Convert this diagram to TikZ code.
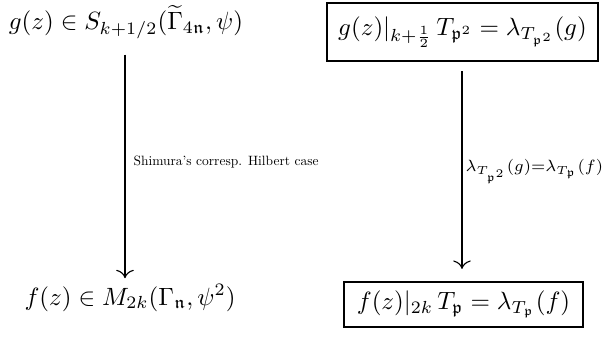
\documentclass[tikz,border=0pt]{standalone}
\usepackage{amsmath,amssymb,graphicx}
\usetikzlibrary{arrows.meta}
\begin{document}
\begin{tikzpicture}[x=0.4pt,y=-0.4pt,
  plain/.style={inner sep=0pt},
  framed/.style={draw,line width=0.9pt,inner sep=0pt},
  conn/.style={-{Computer Modern Rightarrow[scale=1.3]},line width=0.45pt},
  lbl/.style={anchor=west,inner sep=0pt}]
\useasboundingbox (0,0) rectangle (606,340);
\coordinate (lx) at (125,0);
\coordinate (rx) at (462,0);
\node[plain] (A) at (126,22) {$g(z)\in S_{k+1/2}(\widetilde{\Gamma}_{4\mathfrak n},\psi)$};
\node[framed,minimum width=108.4pt,minimum height=23.2pt] (B) at (462.5,32)
  {$g(z)|_{k+\frac12}\,T_{\mathfrak p^2}=\lambda_{T_{\mathfrak p^2}}(g)$};
\node[plain] (C) at (130,298) {$f(z)\in M_{2k}(\Gamma_{\mathfrak n},\psi^2)$};
\node[framed,minimum width=95.6pt,minimum height=18pt] (D) at (463.5,304.5)
  {$f(z)|_{2k}\,T_{\mathfrak p}=\lambda_{T_{\mathfrak p}}(f)$};
\draw[conn,shorten <=6.2pt,shorten >=2.4pt] (A.south -| lx) -- (C.north -| lx)
  node[lbl,midway,xshift=3.2pt] (L1) {\resizebox{74pt}{!}{Shimura's corresp. Hilbert case}};
\draw[conn,shorten <=3.6pt,shorten >=4.8pt] (B.south -| rx) -- (D.north -| rx)
  node[lbl,midway,xshift=1.2pt] (L2) {\resizebox{55pt}{!}{$\scriptstyle\lambda_{T_{\mathfrak p^2}}(g)=\lambda_{T_{\mathfrak p}}(f)$}};
\end{tikzpicture}
\end{document}
